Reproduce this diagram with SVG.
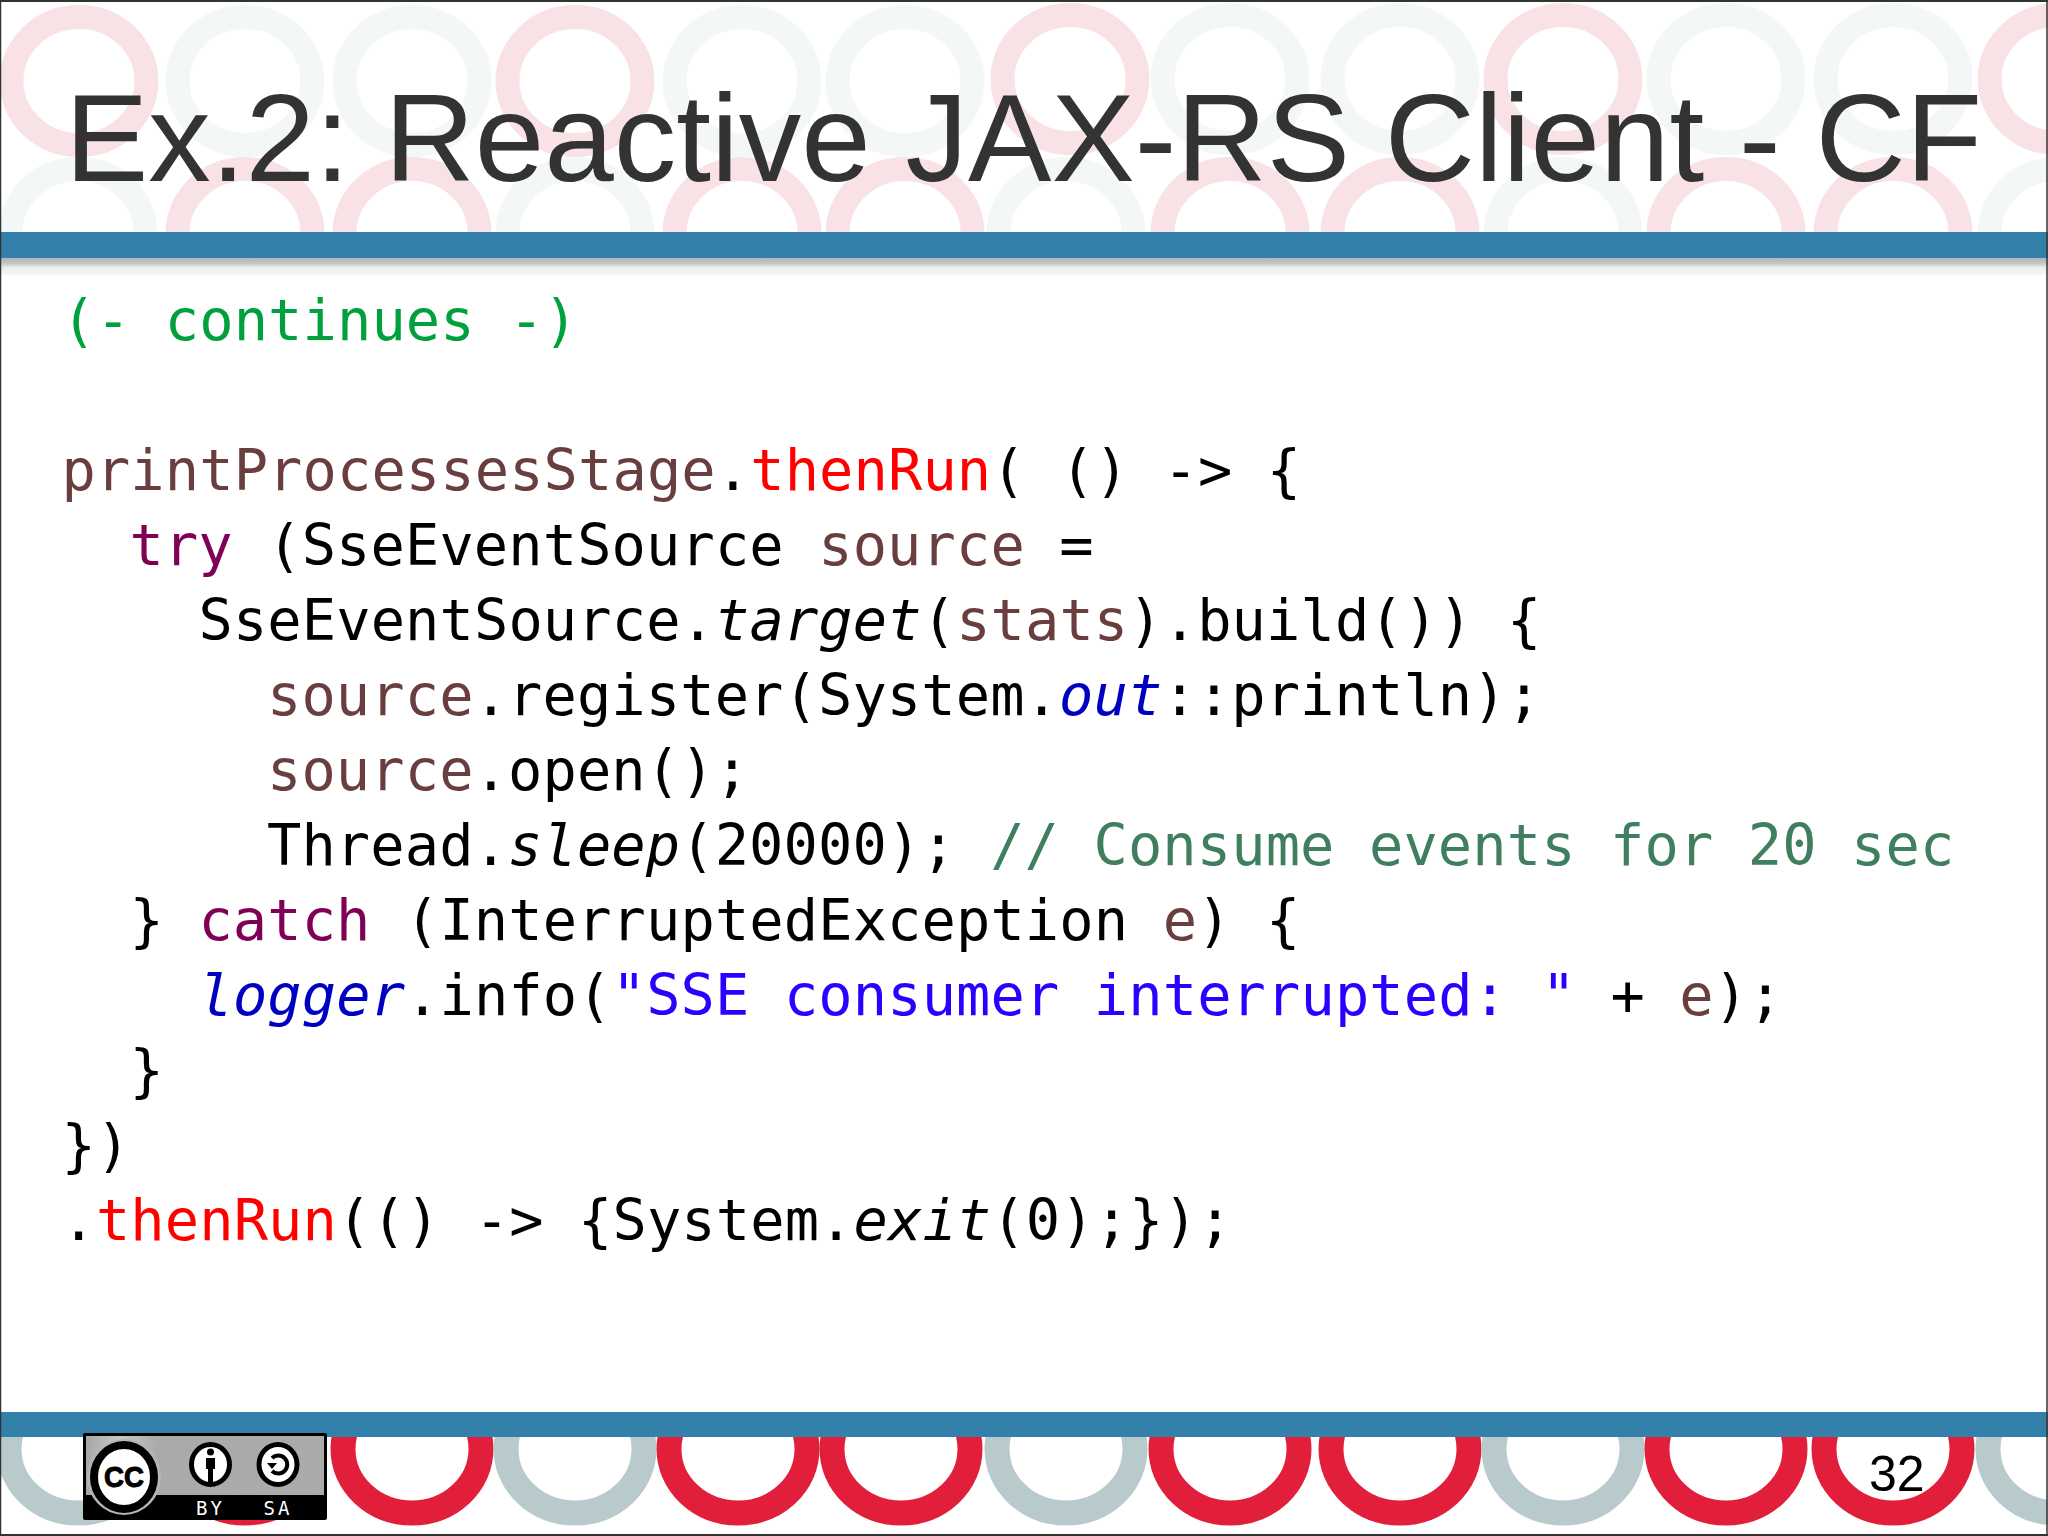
<svg xmlns="http://www.w3.org/2000/svg" width="2048" height="1536" viewBox="0 0 2048 1536">
<style>
.code{font-family:"DejaVu Sans Mono",monospace;font-size:57px;letter-spacing:.12px;white-space:pre;fill:#000}
.v{fill:#6a3e3e}.m{fill:#f00}.k{fill:#7f0055}.f{fill:#0000c0;font-style:italic}.i{font-style:italic}.s{fill:#2a00ff}.c{fill:#3f7f5f}.g{fill:#00a03c}
.r{fill:none;stroke-width:24}
.b{fill:none;stroke-width:25}
.p{stroke:#f9e2e6}.l{stroke:#f4f7f8}.R{stroke:#e11f3a}.G{stroke:#b8cacc}
.bar{fill:#3380ab}
</style>
<defs>
<clipPath id="top"><rect x="0" y="0" width="2048" height="232"/></clipPath>
<clipPath id="bot"><rect x="0" y="1437" width="2048" height="99"/></clipPath>
<linearGradient id="sh" x1="0" y1="0" x2="0" y2="1"><stop offset="0" stop-color="#b2b5b7"/><stop offset="0.35" stop-color="#c6c9cb"/><stop offset="0.55" stop-color="#eceded"/><stop offset="1" stop-color="#f6f6f7"/></linearGradient>
<linearGradient id="bg" x1="0" y1="0" x2="1" y2="0"><stop offset="0" stop-color="#a6a8a6"/><stop offset="0.14" stop-color="#c8c9c7"/><stop offset="0.3" stop-color="#a9aba9"/><stop offset="1" stop-color="#aaacaa"/></linearGradient>
</defs>
<rect width="2048" height="1536" fill="#fff"/>
<g clip-path="url(#top)">
<ellipse class="r p" cx="79" cy="81" rx="67.5" ry="64"/><ellipse class="r l" cx="245" cy="81" rx="67.5" ry="64"/><ellipse class="r l" cx="412" cy="81" rx="67.5" ry="64"/><ellipse class="r p" cx="575" cy="81" rx="67.5" ry="64"/><ellipse class="r l" cx="742" cy="81" rx="67.5" ry="64"/><ellipse class="r l" cx="905" cy="81" rx="67.5" ry="64"/><ellipse class="r p" cx="1070" cy="79" rx="67.5" ry="64"/><ellipse class="r l" cx="1230" cy="79" rx="67.5" ry="64"/><ellipse class="r l" cx="1400" cy="79" rx="67.5" ry="64"/><ellipse class="r p" cx="1563" cy="79" rx="67.5" ry="64"/><ellipse class="r l" cx="1726" cy="79" rx="67.5" ry="64"/><ellipse class="r l" cx="1893" cy="79" rx="67.5" ry="64"/><ellipse class="r p" cx="2057" cy="79" rx="67.5" ry="64"/>
<ellipse class="r l" cx="78" cy="233" rx="67.5" ry="64"/><ellipse class="r p" cx="245" cy="233" rx="67.5" ry="64"/><ellipse class="r p" cx="412" cy="233" rx="67.5" ry="64"/><ellipse class="r l" cx="575" cy="233" rx="67.5" ry="64"/><ellipse class="r p" cx="742" cy="233" rx="67.5" ry="64"/><ellipse class="r p" cx="905" cy="233" rx="67.5" ry="64"/><ellipse class="r l" cx="1066" cy="233" rx="67.5" ry="64"/><ellipse class="r p" cx="1230" cy="233" rx="67.5" ry="64"/><ellipse class="r p" cx="1400" cy="233" rx="67.5" ry="64"/><ellipse class="r l" cx="1563" cy="233" rx="67.5" ry="64"/><ellipse class="r p" cx="1726" cy="233" rx="67.5" ry="64"/><ellipse class="r p" cx="1893" cy="233" rx="67.5" ry="64"/><ellipse class="r l" cx="2057" cy="233" rx="67.5" ry="64"/>
</g>
<g clip-path="url(#bot)">
<ellipse class="b G" cx="78" cy="1449" rx="69" ry="64"/><ellipse class="b R" cx="245" cy="1449" rx="69" ry="64"/><ellipse class="b R" cx="412" cy="1449" rx="69" ry="64"/><ellipse class="b G" cx="575" cy="1449" rx="69" ry="64"/><ellipse class="b R" cx="738" cy="1449" rx="69" ry="64"/><ellipse class="b R" cx="901" cy="1449" rx="69" ry="64"/><ellipse class="b G" cx="1066" cy="1449" rx="69" ry="64"/><ellipse class="b R" cx="1230" cy="1449" rx="69" ry="64"/><ellipse class="b R" cx="1400" cy="1449" rx="69" ry="64"/><ellipse class="b G" cx="1563" cy="1449" rx="69" ry="64"/><ellipse class="b R" cx="1726" cy="1449" rx="69" ry="64"/><ellipse class="b R" cx="1893" cy="1449" rx="69" ry="64"/><ellipse class="b G" cx="2057" cy="1449" rx="69" ry="64"/>
</g>
<rect x="0" y="258" width="2048" height="17" fill="url(#sh)"/>
<rect class="bar" x="0" y="232" width="2048" height="26"/>
<rect class="bar" x="0" y="1412" width="2048" height="25"/>
<text x="65" y="181" font-family="'Liberation Sans',Arial,sans-serif" font-size="124" fill="#333" textLength="1917" lengthAdjust="spacingAndGlyphs">Ex.2: Reactive JAX-RS Client - CF</text>
<text class="code" x="61.5" y="340"><tspan class="g">(- continues -)</tspan></text>
<text class="code" x="61.5" y="490"><tspan class="v">printProcessesStage</tspan>.<tspan class="m">thenRun</tspan>( () -&gt; {</text>
<text class="code" x="129.5" y="565"><tspan class="k">try</tspan> (SseEventSource <tspan class="v">source</tspan> =</text>
<text class="code" x="198.5" y="640">SseEventSource.<tspan class="i">target</tspan>(<tspan class="v">stats</tspan>).build()) {</text>
<text class="code" x="267" y="715"><tspan class="v">source</tspan>.register(System.<tspan class="f">out</tspan>::println);</text>
<text class="code" x="267" y="790"><tspan class="v">source</tspan>.open();</text>
<text class="code" x="267" y="865">Thread.<tspan class="i">sleep</tspan>(20000); <tspan class="c">// Consume events for 20 sec</tspan></text>
<text class="code" x="129.5" y="940">} <tspan class="k">catch</tspan> (InterruptedException <tspan class="v">e</tspan>) {</text>
<text class="code" x="198.5" y="1015"><tspan class="f">logger</tspan>.info(<tspan class="s">"SSE consumer interrupted: "</tspan> + <tspan class="v">e</tspan>);</text>
<text class="code" x="129.5" y="1090">}</text>
<text class="code" x="61.5" y="1165">})</text>
<text class="code" x="61.5" y="1240">.<tspan class="m">thenRun</tspan>(() -&gt; {System.<tspan class="i">exit</tspan>(0);});</text>
<g id="badge">
<rect x="83" y="1433" width="244" height="87" rx="2" fill="#000"/>
<rect x="86" y="1436" width="238" height="59" fill="url(#bg)"/>
<ellipse cx="124" cy="1477" rx="37" ry="38" fill="#b5b7b5"/>
<ellipse cx="124" cy="1477" rx="30" ry="32" fill="#fff" stroke="#000" stroke-width="8"/>
<text x="124" y="1487" text-anchor="middle" font-family="'Liberation Sans',Arial,sans-serif" font-weight="700" font-size="30" fill="#000" stroke="#000" stroke-width="1" textLength="40" lengthAdjust="spacingAndGlyphs">CC</text>
<ellipse cx="210.5" cy="1464.5" rx="19" ry="20" fill="#fff" stroke="#000" stroke-width="5"/>
<circle cx="210.5" cy="1452" r="3.5" fill="#000"/>
<path d="M206 1458h9v11h-2v13h-5v-13h-2z" fill="#000"/>
<ellipse cx="278" cy="1464.5" rx="19" ry="20" fill="#fff" stroke="#000" stroke-width="5"/>
<path d="M272 1458a9 9 0 1 1 0 13" fill="none" stroke="#000" stroke-width="4"/>
<path d="M267 1463h10l-5 6z" fill="#000"/>
<text x="210.5" y="1515" text-anchor="middle" font-family="'DejaVu Sans Mono',monospace" font-size="19" letter-spacing="3" fill="#fff">BY</text>
<text x="278" y="1515" text-anchor="middle" font-family="'DejaVu Sans Mono',monospace" font-size="19" letter-spacing="3" fill="#fff">SA</text>
</g>
<text x="1869" y="1491" font-family="'Liberation Sans',Arial,sans-serif" font-size="50" fill="#000">32</text>
<path d="M0.5 0V1536M2047 0V1536" stroke="#333" stroke-width="1.5" fill="none"/>
<path d="M0 1H2048M0 1535H2048" stroke="#333" stroke-width="2" fill="none"/>
</svg>
